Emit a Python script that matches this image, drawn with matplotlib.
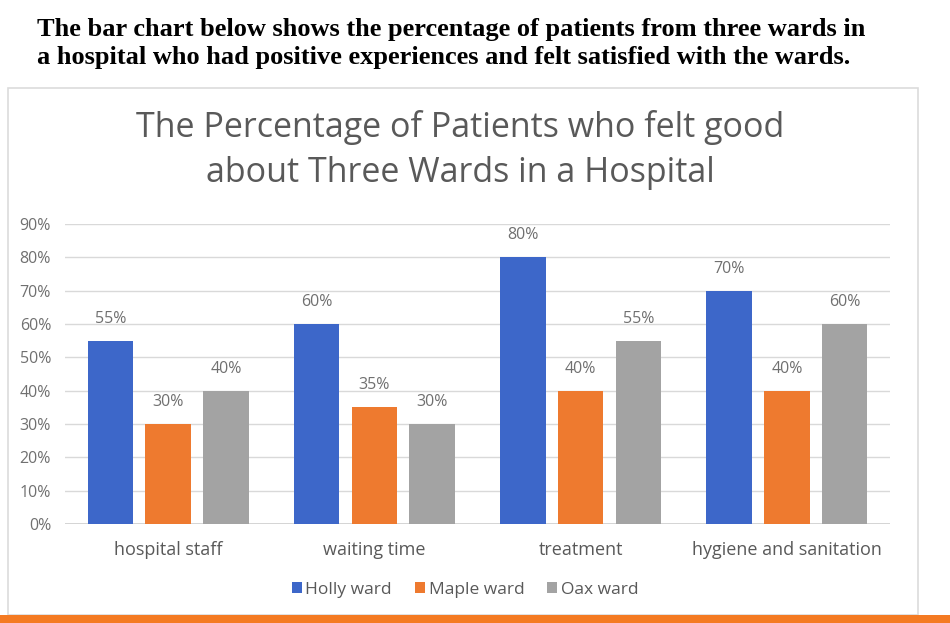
import matplotlib.pyplot as plt
from matplotlib.patches import Rectangle
import numpy as np

categories = ['hospital staff', 'waiting time', 'treatment', 'hygiene and sanitation']
series_names = ['Holly ward', 'Maple ward', 'Oax ward']
holly = [55, 60, 80, 70]
maple = [30, 35, 40, 40]
oax = [40, 30, 55, 60]
y_ticks = [0, 10, 20, 30, 40, 50, 60, 70, 80, 90]

colors = ['#3D67C9', '#EE7A2F', '#A3A3A3']
text_gray = '#595959'
label_gray = '#707070'

fig = plt.figure(figsize=(9.5, 6.23), dpi=100)

# frame around the chart and orange stripe at the bottom
fig.patches.append(Rectangle((8 / 950, 8 / 623), 910 / 950, 527 / 623, transform=fig.transFigure,
                             facecolor='none', edgecolor='#DCDCDC', linewidth=1.2, zorder=-1))
fig.patches.append(Rectangle((0, 0), 1, 8 / 623, transform=fig.transFigure,
                             facecolor='#F47A22', edgecolor='none', zorder=-1))

fig.text(37 / 950, 1 - 18 / 623,
         'The bar chart below shows the percentage of patients from three wards in\n'
         'a hospital who had positive experiences and felt satisfied with the wards.',
         family='Liberation Serif', weight='bold', fontsize=19, va='top', ha='left',
         linespacing=1.3, color='black')

fig.text(460 / 950, 1 - 150 / 623,
         'The Percentage of Patients who felt good\nabout Three Wards in a Hospital',
         family='Open Sans', fontsize=24.5, color=text_gray, ha='center', va='center',
         linespacing=1.45)

ax = fig.add_axes([65 / 950, 99 / 623, 825 / 950, 300 / 623])
ax.patch.set_alpha(0)
x = np.arange(len(categories))
width = 0.22
step = 0.28
for i, (vals, name) in enumerate(zip([holly, maple, oax], series_names)):
    pos = x + (i - 1) * step
    bars = ax.bar(pos, vals, width, color=colors[i], label=name, zorder=3)
    for p, v in zip(pos, vals):
        ax.annotate('%d%%' % v, xy=(p, v), xytext=(0, 10), textcoords='offset points',
                    ha='center', va='bottom', fontsize=11.5, color=label_gray, family='Open Sans')

ax.set_xlim(-0.5, 3.5)
ax.set_ylim(0, 90)
ax.set_yticks(y_ticks)
ax.set_yticklabels(['%d%%' % t for t in y_ticks], family='Open Sans', fontsize=11.5, color=label_gray)
ax.set_xticks(x)
ax.set_xticklabels(categories, family='Open Sans', fontsize=13, color=text_gray)
ax.tick_params(length=0, pad=10)
ax.tick_params(axis='x', pad=12)
ax.grid(axis='y', color='#D9D9D9', linewidth=1, zorder=0)
for s in ax.spines.values():
    s.set_visible(False)
ax.axhline(0, color='#CFCFCF', linewidth=1.2, zorder=2)

leg = fig.legend(loc='center', bbox_to_anchor=(465 / 950, 1 - 590 / 623), ncol=3, frameon=False,
                 prop={'family': 'Open Sans', 'size': 12.5}, handlelength=0.6, handleheight=0.6,
                 handletextpad=0.2, columnspacing=1.3)
for t in leg.get_texts():
    t.set_color(text_gray)

fig.savefig('out.png', dpi=100)
